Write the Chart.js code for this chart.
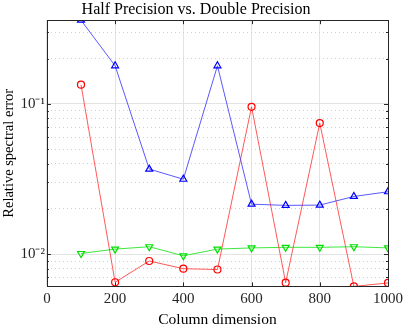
<!DOCTYPE html>
<html>
<head>
<meta charset="utf-8">
<script src="https://cdn.jsdelivr.net/npm/chart.js@4.4.1/dist/chart.umd.min.js"></script>
<style>
  html, body { margin: 0; padding: 0; background: #fff; }
  #wrap { width: 407px; height: 326px; }
</style>
</head>
<body>
<div id="wrap"><canvas id="errChart" width="407" height="326"></canvas></div>
<script>
// column dimensions
const columns = [100, 200, 300, 400, 500, 600, 700, 800, 900, 1000];

// relative spectral error
const blueErr = [0.36, 0.179, 0.0368, 0.0315, 0.179, 0.0215, 0.0211, 0.0212, 0.0242, 0.026];
const redErr = [0.134, 0.0065, 0.0090, 0.0080, 0.0079, 0.0955, 0.00646, 0.0744, 0.0061, 0.00643];
const greenErr = [0.0101, 0.0108, 0.0112, 0.00975, 0.0108, 0.0110, 0.0111, 0.0111, 0.0112, 0.0110];

const xTicks = [0, 200, 400, 600, 800, 1000];
const yMajor = [0.01, 0.1];
const yMinor = [0.007, 0.008, 0.009, 0.02, 0.03, 0.04, 0.05, 0.06, 0.07, 0.08, 0.09, 0.2, 0.3];
const yLabels = { 0.01: '10\u207B\u00B2', 0.1: '10\u207B\u00B9' };

const serif = "'Liberation Serif', 'Times New Roman', serif";

function pts(vals) {
    return columns.map((c, i) => ({ x: c, y: vals[i] }));
}

// box and inward tick marks like the original figure
const boxPlugin = {
    id: 'boxTicks',
    afterDatasetsDraw(chart) {
        const ctx = chart.ctx;
        const a = chart.chartArea;
        const xs = chart.scales.x;
        const ys = chart.scales.y;
        ctx.save();
        ctx.strokeStyle = '#262626';
        ctx.lineWidth = 1;
        ctx.beginPath();
        xTicks.forEach(v => {
            const px = Math.round(xs.getPixelForValue(v)) + 0.5;
            ctx.moveTo(px, a.bottom); ctx.lineTo(px, a.bottom - 4);
            ctx.moveTo(px, a.top); ctx.lineTo(px, a.top + 4);
        });
        yMajor.forEach(v => {
            const py = Math.round(ys.getPixelForValue(v)) + 0.5;
            ctx.moveTo(a.left, py); ctx.lineTo(a.left + 4, py);
            ctx.moveTo(a.right, py); ctx.lineTo(a.right - 4, py);
        });
        yMinor.forEach(v => {
            const py = Math.round(ys.getPixelForValue(v)) + 0.5;
            ctx.moveTo(a.left, py); ctx.lineTo(a.left + 2, py);
            ctx.moveTo(a.right, py); ctx.lineTo(a.right - 2, py);
        });
        ctx.stroke();
        ctx.strokeRect(Math.round(a.left) + 0.5, Math.round(a.top) + 0.5,
            Math.round(a.right - a.left), Math.round(a.bottom - a.top));
        ctx.restore();
    }
};

const ctx = document.getElementById('errChart').getContext('2d');
const errChart = new Chart(ctx, {
    type: 'line',
    data: {
        datasets: [
            {
                label: 'blue',
                data: pts(blueErr),
                borderColor: 'rgba(60, 60, 255, 0.85)',
                borderWidth: 1,
                pointStyle: 'triangle',
                pointRadius: 4,
                pointBorderColor: '#0000ff',
                pointBorderWidth: 1.2,
                pointBackgroundColor: 'rgba(0,0,0,0)'
            },
            {
                label: 'red',
                data: pts(redErr),
                borderColor: 'rgba(255, 60, 60, 0.85)',
                borderWidth: 1,
                pointStyle: 'circle',
                pointRadius: 3.5,
                pointBorderColor: '#ff0000',
                pointBorderWidth: 1.2,
                pointBackgroundColor: 'rgba(0,0,0,0)'
            },
            {
                label: 'green',
                data: pts(greenErr),
                borderColor: 'rgba(40, 230, 40, 0.9)',
                borderWidth: 1,
                pointStyle: 'triangle',
                rotation: 180,
                pointRadius: 4,
                pointBorderColor: '#00e000',
                pointBorderWidth: 1.2,
                pointBackgroundColor: 'rgba(0,0,0,0)'
            }
        ]
    },
    options: {
        responsive: false,
        animation: false,
        layout: { padding: { left: 0, right: 15, top: 0, bottom: -3 } },
        plugins: {
            legend: { display: false },
            tooltip: { enabled: false },
            title: {
                display: true,
                text: 'Half Precision vs. Double Precision',
                color: '#000',
                font: { family: serif, size: 16, weight: 'normal' },
                padding: { top: 0, bottom: 1 }
            }
        },
        scales: {
            x: {
                type: 'linear',
                min: 0,
                max: 1000,
                afterBuildTicks: s => { s.ticks = xTicks.map(v => ({ value: v })); },
                ticks: {
                    color: '#262626',
                    font: { family: serif, size: 15 },
                    maxRotation: 0,
                    padding: 4,
                    callback: v => String(v)
                },
                grid: { color: '#e3e3e3', drawTicks: false },
                border: { display: false },
                title: {
                    display: true,
                    text: 'Column dimension',
                    color: '#000',
                    font: { family: serif, size: 15.5 },
                    padding: { top: -2, bottom: 0 }
                }
            },
            y: {
                type: 'logarithmic',
                min: 0.0061,
                max: 0.36,
                afterBuildTicks: s => { s.ticks = yMajor.map(v => ({ value: v })); },
                ticks: {
                    color: '#262626',
                    font: { family: serif, size: 15 },
                    padding: 2,
                    callback: v => yLabels[v] || ''
                },
                grid: { color: '#e3e3e3', drawTicks: false },
                border: { display: false },
                title: {
                    display: true,
                    text: 'Relative spectral error',
                    color: '#000',
                    font: { family: serif, size: 14.5 },
                    padding: { top: 0, bottom: 1 }
                }
            },
            yMinor: {
                type: 'logarithmic',
                position: 'left',
                min: 0.0061,
                max: 0.36,
                afterBuildTicks: s => { s.ticks = yMinor.map(v => ({ value: v })); },
                ticks: { display: false, padding: 0 },
                grid: { color: '#d0d0d0', drawTicks: false },
                border: { display: false, dash: [1, 3] }
            }
        }
    },
    plugins: [boxPlugin]
});
</script>
</body>
</html>
